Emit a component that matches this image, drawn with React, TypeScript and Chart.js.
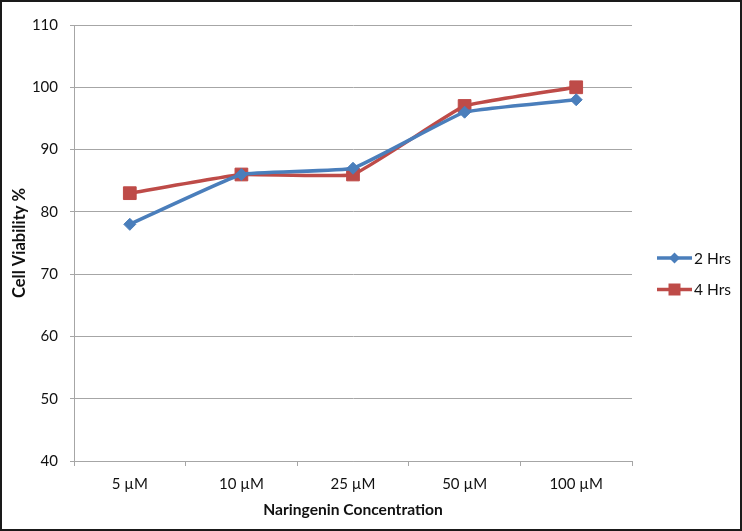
import React, { useEffect, useRef } from "react";
import { Chart, registerables } from "chart.js";

Chart.register(...registerables);

const categories = ["5 µM", "10 µM", "25 µM", "50 µM", "100 µM"];
const series2Hrs = [78, 86, 87, 96, 98];
const series4Hrs = [83, 86, 86, 97, 100];
const seriesNames = ["2 Hrs", "4 Hrs"];
const yTicks = [40, 50, 60, 70, 80, 90, 100, 110];

const FONT = "Lato, 'Open Sans', sans-serif";
const BLUE = "#4A7EBB";
const RED = "#BE4B48";
const GRID = "#A6A6A6";

const legendPlugin = {
  id: "customLegend",
  afterDraw(chart: any) {
    const ctx = chart.ctx;
    ctx.save();
    const items = chart.data.datasets.map((d: any) => ({
      label: d.label,
      color: d.borderColor,
      style: d.pointStyle,
    }));
    items.forEach((it: any, i: number) => {
      const y = 258 + i * 31.5;
      const x0 = 657;
      const x1 = 692;
      const cx = (x0 + x1) / 2;
      ctx.strokeStyle = it.color;
      ctx.lineWidth = 3.5;
      ctx.beginPath();
      ctx.moveTo(x0, y);
      ctx.lineTo(x1, y);
      ctx.stroke();
      ctx.fillStyle = it.color;
      ctx.beginPath();
      if (it.style === "rectRot") {
        const r = 5.5;
        ctx.moveTo(cx, y - r);
        ctx.lineTo(cx + r, y);
        ctx.lineTo(cx, y + r);
        ctx.lineTo(cx - r, y);
        ctx.closePath();
      } else {
        const s = 6;
        ctx.rect(cx - s, y - s, 2 * s, 2 * s);
      }
      ctx.fill();
      ctx.fillStyle = "#111";
      ctx.font = `15.5px ${FONT}`;
      ctx.textBaseline = "middle";
      ctx.textAlign = "left";
      ctx.fillText(it.label, 694, y + 0.5);
    });
    // outer border
    ctx.strokeStyle = "#1a1a1a";
    ctx.lineWidth = 2;
    ctx.strokeRect(1, 1, chart.width - 2, chart.height - 2);
    ctx.restore();
  },
};

const whiteBg = {
  id: "whiteBg",
  beforeDraw(chart: any) {
    const ctx = chart.ctx;
    ctx.save();
    ctx.fillStyle = "#fff";
    ctx.fillRect(0, 0, chart.width, chart.height);
    ctx.restore();
  },
};

export default function App() {
  const ref = useRef<HTMLCanvasElement | null>(null);
  useEffect(() => {
    document.body.style.margin = "0";
    if (!ref.current) return;
    const chart = new Chart(ref.current, {
      type: "line",
      data: {
        labels: categories,
        datasets: [
          {
            label: seriesNames[0],
            data: series2Hrs,
            borderColor: BLUE,
            backgroundColor: BLUE,
            borderWidth: 3.5,
            pointStyle: "rectRot",
            pointRadius: 6,
            pointBorderWidth: 1,
            tension: 0.1,
          },
          {
            label: seriesNames[1],
            data: series4Hrs,
            borderColor: RED,
            backgroundColor: RED,
            borderWidth: 3.5,
            pointStyle: "rect",
            pointRadius: 9,
            pointBorderWidth: 1,
            tension: 0.1,
          },
        ],
      },
      options: {
        responsive: false,
        animation: false,
        layout: { padding: { top: 25, right: 110, left: 0, bottom: 0 } },
        plugins: {
          legend: { display: false },
          tooltip: { enabled: false },
        },
        scales: {
          x: {
            type: "category",
            offset: true,
            grid: {
              offset: true,
              drawOnChartArea: false,
              drawTicks: true,
              tickLength: 5,
              color: GRID,
            },
            border: { display: true, color: GRID, width: 1 },
            ticks: {
              color: "#111",
              font: { family: FONT, size: 15 },
              padding: 9,
              maxRotation: 0,
            },
            title: {
              display: true,
              text: "Naringenin Concentration",
              color: "#111",
              font: { family: FONT, size: 15.6, weight: "bold" },
              padding: { top: 0, bottom: 12 },
            },
            afterFit(scale: any) {
              scale.height = 70;
            },
          },
          y: {
            min: 40,
            max: 110,
            afterBuildTicks(scale: any) {
              scale.ticks = yTicks.map((v) => ({ value: v }));
            },
            grid: {
              color: GRID,
              lineWidth: 1,
              drawTicks: true,
              tickLength: 4,
            },
            border: { display: true, color: GRID, width: 1 },
            ticks: {
              color: "#111",
              font: { family: FONT, size: 15 },
              padding: 12,
            },
            title: {
              display: true,
              text: "Cell Viability %",
              color: "#111",
              font: { family: FONT, size: 16.5, weight: "bold" },
              padding: { top: 10, bottom: 0 },
            },
            afterFit(scale: any) {
              scale.width = 74;
            },
          },
        },
      },
      plugins: [whiteBg, legendPlugin],
    });
    return () => chart.destroy();
  }, []);
  return (
    <div style={{ width: 742, height: 531 }}>
      <canvas ref={ref} width={742} height={531} style={{ display: "block" }} />
    </div>
  );
}
